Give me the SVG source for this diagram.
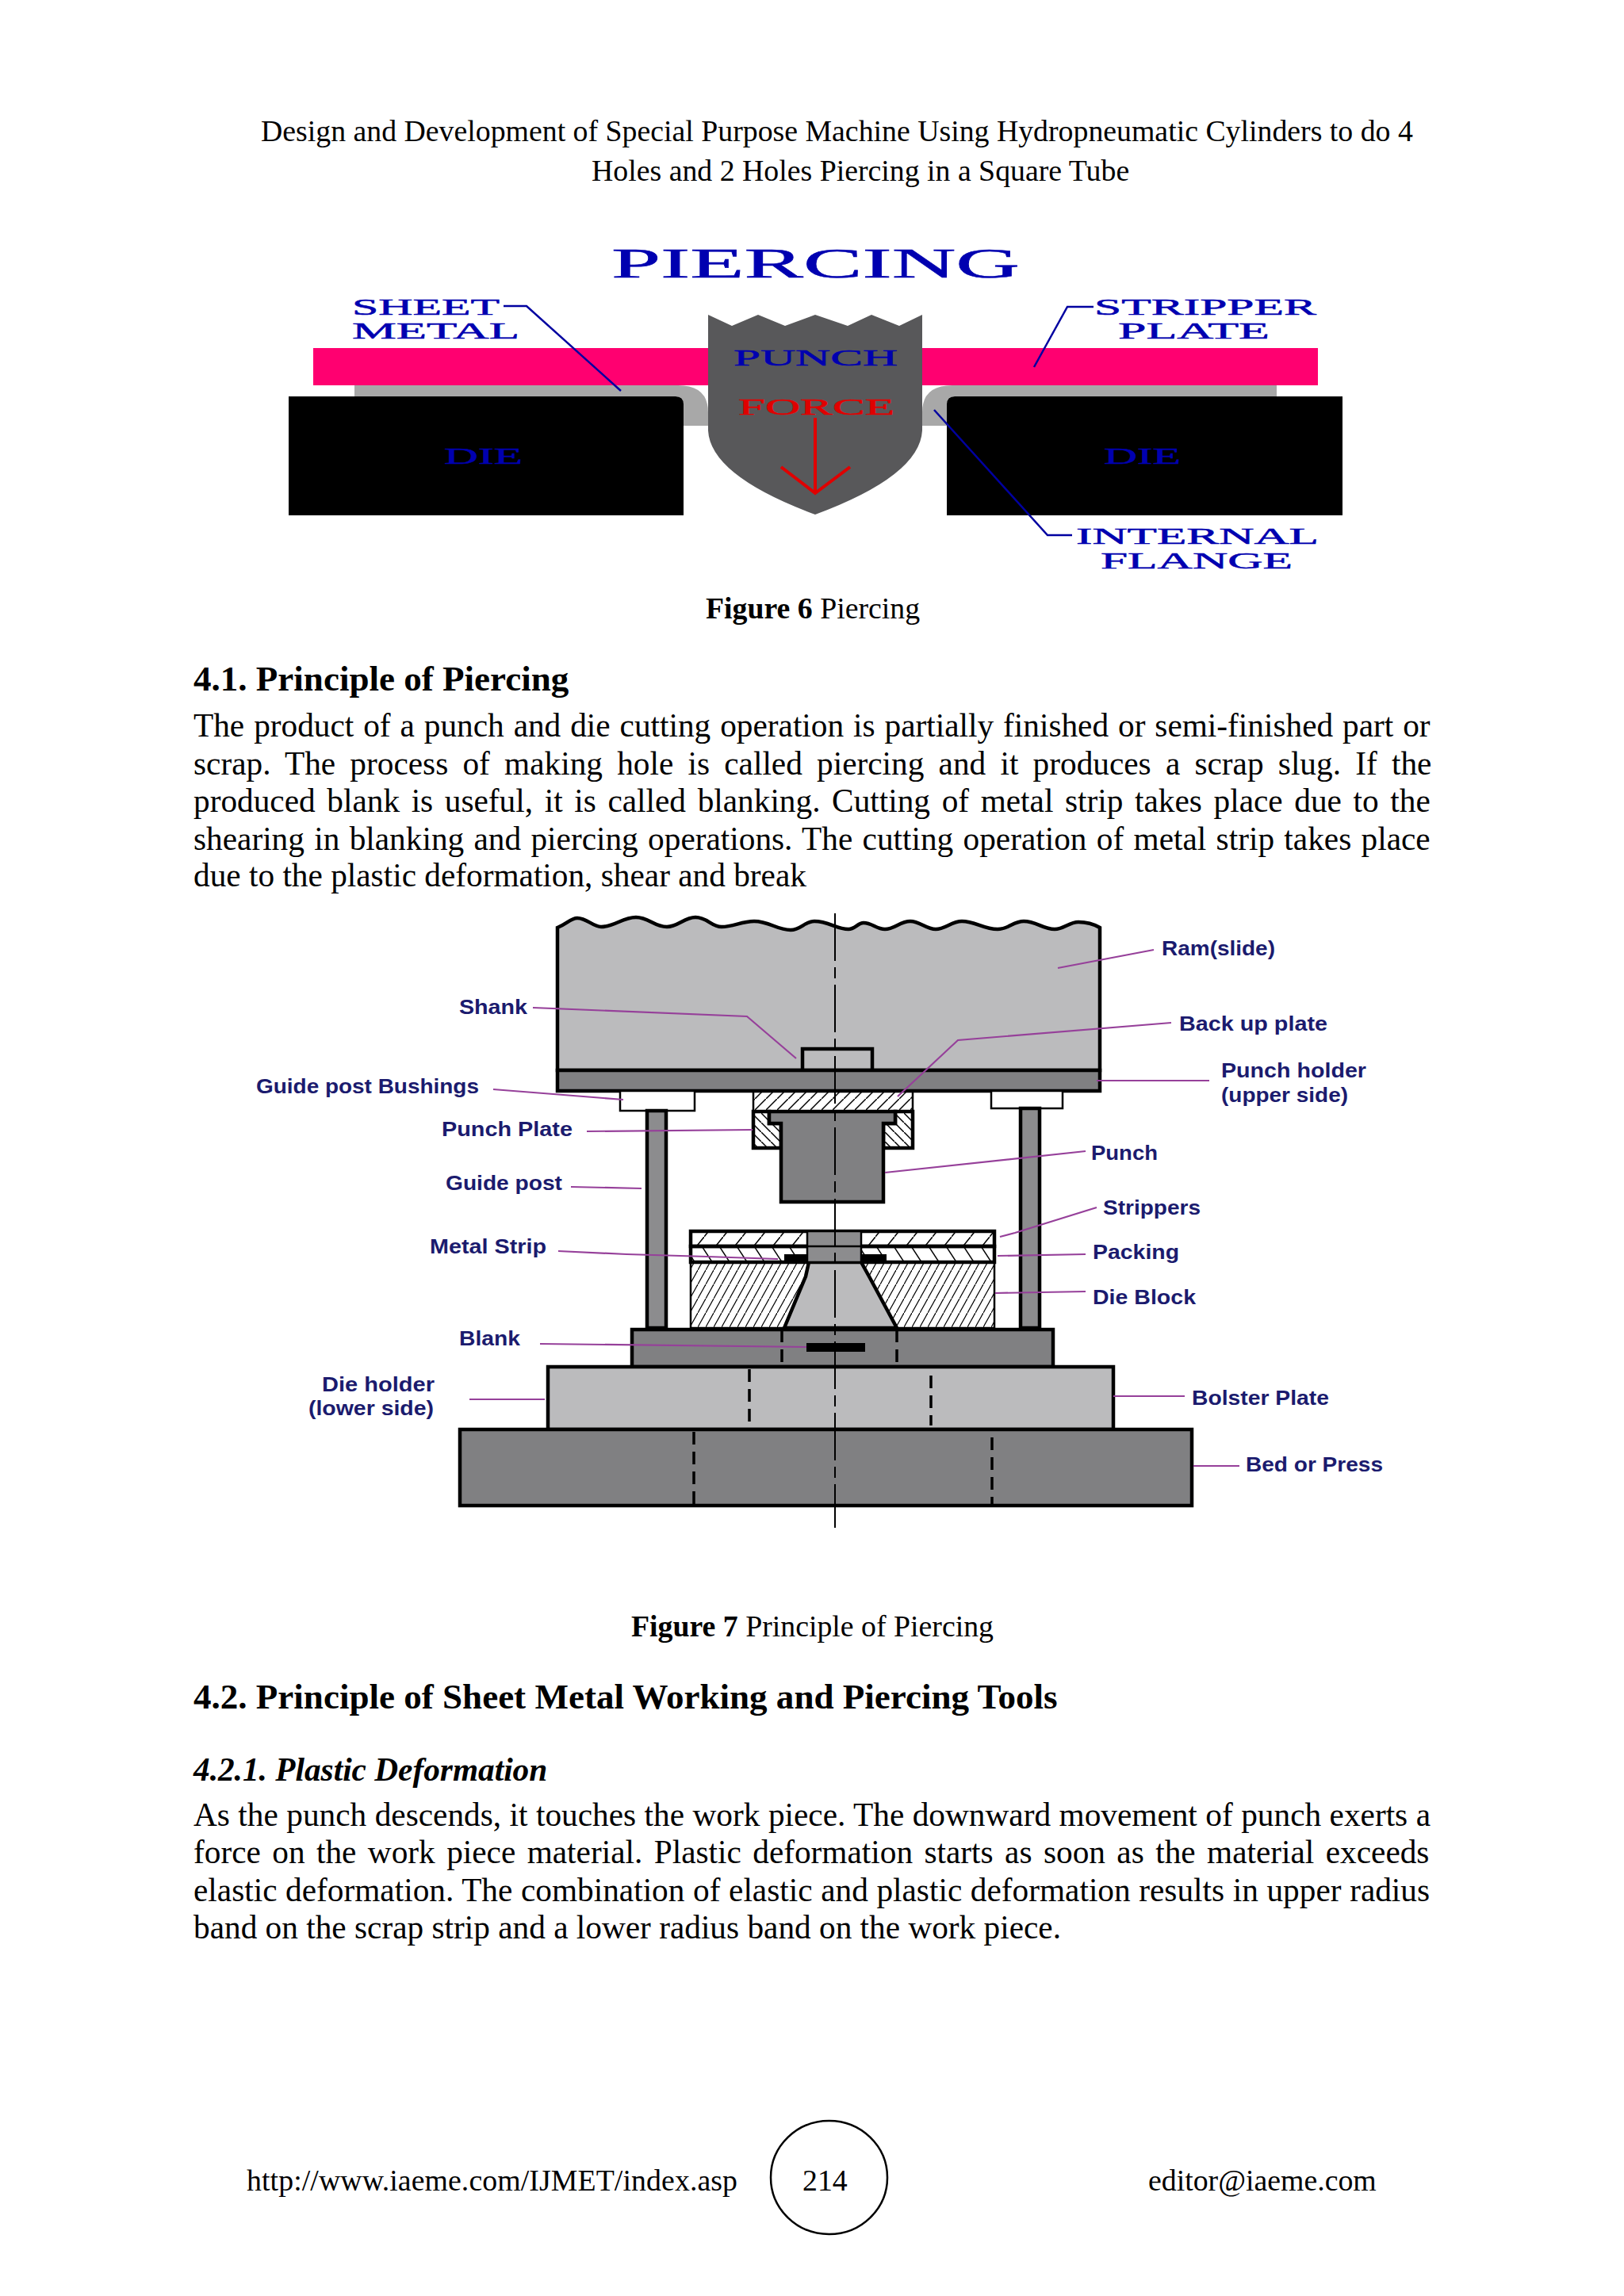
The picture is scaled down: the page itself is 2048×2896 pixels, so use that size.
<svg xmlns="http://www.w3.org/2000/svg" width="2048" height="2896" viewBox="0 0 2048 2896">
<style>
.t{font-family:"Liberation Serif",serif;font-size:41.3px;fill:#000}
.s{font-family:"Liberation Serif",serif;font-size:37.8px;fill:#000}
.h{font-family:"Liberation Serif",serif;font-size:45.05px;font-weight:bold;fill:#000}
.b{font-weight:bold}
.i{font-family:"Liberation Serif",serif;font-size:41.3px;font-weight:bold;font-style:italic;fill:#000}
.f6{font-family:"Liberation Serif",serif;font-size:30px;fill:#0000b0;stroke:#0000b0;stroke-width:.5}
.lb{font-family:"Liberation Sans",Arial,sans-serif;font-size:25px;font-weight:bold;fill:#1b1b6e}
.blue{fill:none;stroke:#0000a0;stroke-width:2.5}
.lead{fill:none;stroke:#96409a;stroke-width:2.2}
.k{stroke:#000;stroke-width:4.5}
.k2{stroke:#000;stroke-width:2.5}
.dash{fill:none;stroke:#000;stroke-width:3.5;stroke-dasharray:16 9}
.dark{fill:#808082}
.light{fill:#bbbbbd}
</style>
<defs>
<pattern id="hBack" patternUnits="userSpaceOnUse" width="14" height="14"><path d="M-5 19L19 -5" stroke="#000" stroke-width="1.5"/></pattern>
<pattern id="hPlate" patternUnits="userSpaceOnUse" width="12" height="12"><path d="M-4 -4L16 16" stroke="#000" stroke-width="1.5"/></pattern>
<pattern id="hStrip" patternUnits="userSpaceOnUse" width="24" height="30"><path d="M-4 35L28 -5" stroke="#000" stroke-width="1.5"/></pattern>
<pattern id="hPack" patternUnits="userSpaceOnUse" width="22" height="34"><path d="M-4 -6L26 40" stroke="#000" stroke-width="1.5"/></pattern>
<pattern id="hDie" patternUnits="userSpaceOnUse" width="10" height="18"><path d="M-3 23.4L13 -5.4" stroke="#000" stroke-width="1.2"/></pattern>
</defs>
<rect width="2048" height="2896" fill="#fff"/>

<g id="page-text">
<text class="s" x="329" y="178">Design and Development of Special Purpose Machine Using Hydropneumatic Cylinders to do 4</text>
<text class="s" x="746" y="228">Holes and 2 Holes Piercing in a Square Tube</text>
<text class="s" x="890" y="780"><tspan class="b">Figure 6</tspan> Piercing</text>
<text class="h" x="244" y="871">4.1. Principle of Piercing</text>
<text class="t" x="244" y="929" word-spacing="1.6">The product of a punch and die cutting operation is partially finished or semi-finished part or</text>
<text class="t" x="244" y="977" word-spacing="7.9">scrap. The process of making hole is called piercing and it produces a scrap slug. If the</text>
<text class="t" x="244" y="1024" word-spacing="4.3">produced blank is useful, it is called blanking. Cutting of metal strip takes place due to the</text>
<text class="t" x="244" y="1072" word-spacing="2">shearing in blanking and piercing operations. The cutting operation of metal strip takes place</text>
<text class="t" x="244" y="1118">due to the plastic deformation, shear and break</text>
<text class="s" x="796" y="2064"><tspan class="b">Figure 7</tspan> Principle of Piercing</text>
<text class="h" x="244" y="2155">4.2. Principle of Sheet Metal Working and Piercing Tools</text>
<text class="i" x="244" y="2246">4.2.1. Plastic Deformation</text>
<text class="t" x="244" y="2303" word-spacing=".15">As the punch descends, it touches the work piece. The downward movement of punch exerts a</text>
<text class="t" x="244" y="2350" word-spacing="4.1">force on the work piece material. Plastic deformation starts as soon as the material exceeds</text>
<text class="t" x="244" y="2398" word-spacing=".3">elastic deformation. The combination of elastic and plastic deformation results in upper radius</text>
<text class="t" x="244" y="2445">band on the scrap strip and a lower radius band on the work piece.</text>
<text class="s" x="311" y="2763" textLength="619">http://www.iaeme.com/IJMET/index.asp</text>
<text class="s" x="1012" y="2763">214</text>
<text class="s" x="1448" y="2763">editor@iaeme.com</text>
</g>
<g id="page-number"><ellipse cx="1045.5" cy="2746.5" rx="73.5" ry="71.5" fill="none" stroke="#000" stroke-width="2.5"/></g>

<g id="fig6">
<g id="sheet-metal"><rect x="395" y="439" width="1267" height="47" fill="#ff0070"/></g>
<g id="flange-left"><path d="M447 486H855Q893 486 893 520V537H862V510Q862 500 852 500H447Z" fill="#a8a8a8"/></g>
<g id="flange-right"><path d="M1610 486H1201Q1163 486 1163 520V537H1194V510Q1194 500 1204 500H1610Z" fill="#a8a8a8"/></g>
<g id="die-left"><path d="M364 500H852Q862 500 862 510V650H364Z" fill="#000"/><text class="f6" x="560" y="585" textLength="99" lengthAdjust="spacingAndGlyphs">DIE</text></g>
<g id="die-right"><path d="M1693 500H1204Q1194 500 1194 510V650H1693Z" fill="#000"/><text class="f6" x="1392" y="585" textLength="97" lengthAdjust="spacingAndGlyphs">DIE</text></g>
<g id="punch"><path d="M893 397L923 411L956 397L990 411L1028 397L1069 411L1099 397L1134 411L1163 397V543Q1160 600 1028 649Q896 600 893 543Z" fill="#58585a"/>
<text class="f6" x="925" y="461" textLength="207" lengthAdjust="spacingAndGlyphs">PUNCH</text>
<text class="f6" x="931" y="523" textLength="197" lengthAdjust="spacingAndGlyphs" style="fill:#e00000;stroke:#e00000">FORCE</text>
<path d="M1028 527V622M985 589L1028 622L1072 589" fill="none" stroke="#e00000" stroke-width="4"/></g>
<text class="f6" x="771" y="350" textLength="515" lengthAdjust="spacingAndGlyphs" style="font-size:53px">PIERCING</text>
<g id="label-sheet-metal"><text class="f6" x="444" y="397" textLength="186" lengthAdjust="spacingAndGlyphs">SHEET</text><text class="f6" x="444" y="427" textLength="211" lengthAdjust="spacingAndGlyphs">METAL</text></g>
<g id="label-stripper"><text class="f6" x="1380" y="397" textLength="280" lengthAdjust="spacingAndGlyphs">STRIPPER</text><text class="f6" x="1410" y="427" textLength="191" lengthAdjust="spacingAndGlyphs">PLATE</text></g>
<g id="label-flange"><text class="f6" x="1357" y="686" textLength="306" lengthAdjust="spacingAndGlyphs">INTERNAL</text><text class="f6" x="1388" y="717" textLength="242" lengthAdjust="spacingAndGlyphs">FLANGE</text></g>
<g id="fig6-connectors">
<path class="blue" d="M635 386H664L783 493"/>
<path class="blue" d="M1379 387H1346L1304 463"/>
<path class="blue" d="M1178 517L1321 675H1352"/>
</g>
</g>

<g id="fig7">
<g id="ram"><path class="k light" d="M703 1350V1170C715 1165 720 1158 728 1158C740 1158 748 1169 758 1169C775 1169 785 1157 802 1157C818 1157 825 1169 841 1169C855 1169 863 1157 877 1157C892 1157 897 1169 910 1169C925 1169 935 1162 951 1162C970 1162 980 1173 997 1173C1010 1173 1015 1162 1027 1162C1045 1162 1055 1172 1070 1172C1078 1172 1082 1164 1089 1164C1100 1164 1105 1172 1116 1172C1128 1172 1135 1162 1148 1162C1160 1162 1168 1172 1180 1172C1192 1172 1200 1162 1213 1162C1230 1162 1240 1172 1258 1172C1272 1172 1278 1162 1291 1162C1307 1162 1315 1172 1330 1172C1342 1172 1348 1163 1360 1163C1372 1163 1380 1166 1387 1170V1350Z"/></g>
<g id="shank"><rect class="k light" x="1012" y="1323" width="88" height="27"/></g>
<g id="punch-holder"><rect class="k dark" x="703" y="1350" width="684" height="26"/></g>
<g id="bushing-left"><rect class="k2" fill="#fff" x="782" y="1376" width="94" height="25"/></g>
<g id="bushing-right"><rect class="k2" fill="#fff" x="1250" y="1376" width="90" height="22"/></g>
<g id="post-left"><rect class="k" fill="#8c8c8e" x="816" y="1401" width="24" height="274"/></g>
<g id="post-right"><rect class="k" fill="#8c8c8e" x="1287" y="1398" width="24" height="277"/></g>
<g id="back-up-plate"><rect class="k2" fill="url(#hBack)" x="950" y="1376" width="201" height="26"/></g>
<g id="punch-plate"><path class="k" fill="url(#hPlate)" d="M950 1402H970V1417H985V1448H950Z"/><path class="k" fill="url(#hPlate)" d="M1151 1402H1129V1417H1114V1448H1151Z"/></g>
<g id="punch-tool"><path class="k dark" d="M970 1402H1129V1417H1114V1516H985V1417H970Z"/></g>
<g id="stripper"><rect class="k" fill="url(#hStrip)" x="871" y="1553" width="383" height="19"/></g>
<g id="packing"><rect class="k" fill="url(#hPack)" x="871" y="1572" width="383" height="20"/></g>
<g id="die-block"><rect class="k2" fill="url(#hDie)" x="871" y="1592" width="383" height="83"/></g>
<g id="die-opening"><path class="k light" d="M1020 1592H1086L1096 1610L1131 1675H989L1016 1610Z"/></g>
<g id="guide-center"><rect class="k2" fill="#8c8c8e" x="1018" y="1553" width="68" height="39"/><path class="k2" d="M1018 1572H1086" /></g>
<g id="metal-strip"><rect x="989" y="1582" width="29" height="10" fill="#000"/><rect x="1086" y="1582" width="32" height="10" fill="#000"/></g>
<g id="die-holder"><rect class="k dark" x="797" y="1677" width="531" height="47"/></g>
<g id="blank"><rect x="1017" y="1694" width="74" height="11" fill="#000"/></g>
<g id="bolster-plate"><rect class="k light" x="691" y="1724" width="713" height="79"/></g>
<g id="bed"><rect class="k dark" x="580" y="1803" width="923" height="96"/></g>
<g id="hidden-lines">
<path class="dash" d="M986 1677V1724M1131 1677V1724M945 1727V1793M1174 1735V1798M875 1806V1897M1251 1813V1897"/>
<path d="M1053 1152V1927" fill="none" stroke="#000" stroke-width="2" stroke-dasharray="60 8 14 8"/>
</g>
<g id="fig7-labels">
<text class="lb" x="579" y="1279" textLength="86" lengthAdjust="spacingAndGlyphs">Shank</text>
<text class="lb" x="323" y="1379" textLength="281" lengthAdjust="spacingAndGlyphs">Guide post Bushings</text>
<text class="lb" x="557" y="1433" textLength="165" lengthAdjust="spacingAndGlyphs">Punch Plate</text>
<text class="lb" x="562" y="1501" textLength="147" lengthAdjust="spacingAndGlyphs">Guide post</text>
<text class="lb" x="542" y="1581" textLength="147" lengthAdjust="spacingAndGlyphs">Metal Strip</text>
<text class="lb" x="579" y="1697" textLength="77" lengthAdjust="spacingAndGlyphs">Blank</text>
<text class="lb" x="406" y="1755" textLength="142" lengthAdjust="spacingAndGlyphs">Die holder</text>
<text class="lb" x="389" y="1785" textLength="158" lengthAdjust="spacingAndGlyphs">(lower side)</text>
<text class="lb" x="1465" y="1205" textLength="143" lengthAdjust="spacingAndGlyphs">Ram(slide)</text>
<text class="lb" x="1487" y="1300" textLength="187" lengthAdjust="spacingAndGlyphs">Back up plate</text>
<text class="lb" x="1540" y="1359" textLength="183" lengthAdjust="spacingAndGlyphs">Punch holder</text>
<text class="lb" x="1540" y="1390" textLength="160" lengthAdjust="spacingAndGlyphs">(upper side)</text>
<text class="lb" x="1376" y="1463" textLength="84" lengthAdjust="spacingAndGlyphs">Punch</text>
<text class="lb" x="1391" y="1532" textLength="123" lengthAdjust="spacingAndGlyphs">Strippers</text>
<text class="lb" x="1378" y="1588" textLength="109" lengthAdjust="spacingAndGlyphs">Packing</text>
<text class="lb" x="1378" y="1645" textLength="130" lengthAdjust="spacingAndGlyphs">Die Block</text>
<text class="lb" x="1503" y="1772" textLength="173" lengthAdjust="spacingAndGlyphs">Bolster Plate</text>
<text class="lb" x="1571" y="1856" textLength="173" lengthAdjust="spacingAndGlyphs">Bed or Press</text>
</g>
<g id="connectors">
<path class="lead" d="M1455 1198L1334 1221"/>
<path class="lead" d="M1477 1290L1208 1312L1132 1383"/>
<path class="lead" d="M1525 1363H1383"/>
<path class="lead" d="M1369 1452L1116 1479"/>
<path class="lead" d="M1383 1523L1280 1555L1261 1560"/>
<path class="lead" d="M1369 1582L1258 1584"/>
<path class="lead" d="M1369 1629L1255 1631"/>
<path class="lead" d="M1494 1761H1404"/>
<path class="lead" d="M1563 1849H1505"/>
<path class="lead" d="M672 1271L942 1282L1004 1335"/>
<path class="lead" d="M622 1374L786 1387"/>
<path class="lead" d="M740 1427L949 1425"/>
<path class="lead" d="M720 1497L809 1499"/>
<path class="lead" d="M704 1578L790 1582L892 1585L981 1588"/>
<path class="lead" d="M681 1695L1017 1699"/>
<path class="lead" d="M592 1765H687"/>
</g>
</g>
</svg>
